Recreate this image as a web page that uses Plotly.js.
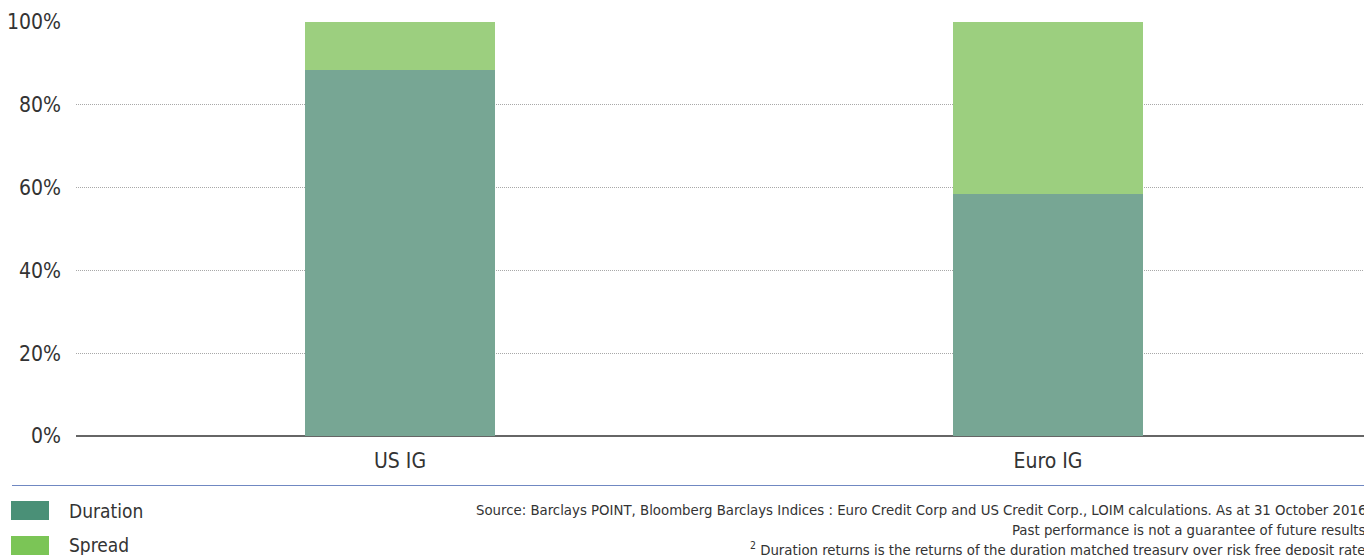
<!DOCTYPE html>
<html>
<head>
<meta charset="utf-8">
<script src="https://cdn.plot.ly/plotly-3.0.1.min.js"></script>
<style>
html,body{margin:0;padding:0;overflow:hidden;background:#fff;}
#chart{width:1364px;height:555px;}
</style>
</head>
<body>
<div id="chart"></div>
<script>
const categories = ["US IG", "Euro IG"];
const duration = [88.5, 58.5];
const spread = [11.5, 41.5];
const yTicks = [0, 20, 40, 60, 80, 100];
const yTickLabels = ["0%", "20%", "40%", "60%", "80%", "100%"];
const legendNames = ["Duration", "Spread"];
const sourceLines = [
  "Source: Barclays POINT, Bloomberg Barclays Indices : Euro Credit Corp and US Credit Corp., LOIM calculations. As at 31 October 2016",
  "Past performance is not a guarantee of future results",
  "<sup>2</sup> Duration returns is the returns of the duration matched treasury over risk free deposit rate"
];

const FONT = "'DejaVu Sans Condensed', 'Roboto', sans-serif";
const barColors = ["#77a694", "#9ccf7f"];
const legendColors = ["#4a9077", "#7bc556"];

const traces = [
  {type: "bar", x: categories, y: duration, name: legendNames[0], marker: {color: barColors[0]}, width: 0.293, showlegend: false, hoverinfo: "skip"},
  {type: "bar", x: categories, y: spread, name: legendNames[1], marker: {color: barColors[1]}, width: 0.293, showlegend: false, hoverinfo: "skip"}
];

const W = 1364, H = 555, L = 76, T = 22, B = 119;
const pw = W - L;
const px2paperX = px => (px - L) / pw;
const ph = H - T - B;
const py2paperY = py => (H - B - py) / ph;

const shapes = [
  {type: "line", xref: "paper", yref: "paper", x0: px2paperX(12), x1: px2paperX(1364), y0: py2paperY(485.5), y1: py2paperY(485.5), line: {color: "#7088c2", width: 1.2}},
  {type: "rect", xref: "paper", yref: "paper", x0: px2paperX(11), x1: px2paperX(49), y0: py2paperY(501), y1: py2paperY(520), fillcolor: legendColors[0], line: {width: 0}},
  {type: "rect", xref: "paper", yref: "paper", x0: px2paperX(11), x1: px2paperX(49), y0: py2paperY(536), y1: py2paperY(556), fillcolor: legendColors[1], line: {width: 0}}
];

const annotations = [
  {xref: "paper", yref: "paper", x: px2paperX(67), y: py2paperY(511), xanchor: "left", yanchor: "middle", text: legendNames[0], showarrow: false, font: {family: FONT, size: 19, color: "#333"}},
  {xref: "paper", yref: "paper", x: px2paperX(67), y: py2paperY(545), xanchor: "left", yanchor: "middle", text: legendNames[1], showarrow: false, font: {family: FONT, size: 19, color: "#333"}},
];
const srcY = [510, 529, 548];
sourceLines.forEach((s, i) => {
  annotations.push({xref: "paper", yref: "paper", x: px2paperX(1368), y: py2paperY(srcY[i]), xanchor: "right", yanchor: "middle", text: s, showarrow: false, font: {family: FONT, size: 14.8, color: "#333"}});
});

const layout = {
  width: W, height: H,
  margin: {l: L, r: 0, t: T, b: B, pad: 0},
  paper_bgcolor: "#fff", plot_bgcolor: "#fff",
  barmode: "stack",
  showlegend: false,
  font: {family: FONT, color: "#333"},
  xaxis: {
    type: "category", range: [-0.5, -0.5 + pw / 648], fixedrange: true,
    showgrid: false, zeroline: false, showline: false, ticks: "",
    tickfont: {family: FONT, size: 21, color: "#333"}, ticklabelstandoff: 10
  },
  yaxis: {
    range: [0, 100], tickvals: yTicks, ticktext: yTickLabels, fixedrange: true,
    showgrid: true, gridcolor: "#a8a8a8", griddash: "1px,1px", gridwidth: 1,
    zeroline: true, zerolinecolor: "#666", zerolinewidth: 1.5,
    showline: false, ticks: "",
    tickfont: {family: FONT, size: 21, color: "#333"}, ticklabelstandoff: 14
  },
  shapes: shapes,
  annotations: annotations
};

Plotly.newPlot("chart", traces, layout, {displayModeBar: false, staticPlot: true});
</script>
</body>
</html>
